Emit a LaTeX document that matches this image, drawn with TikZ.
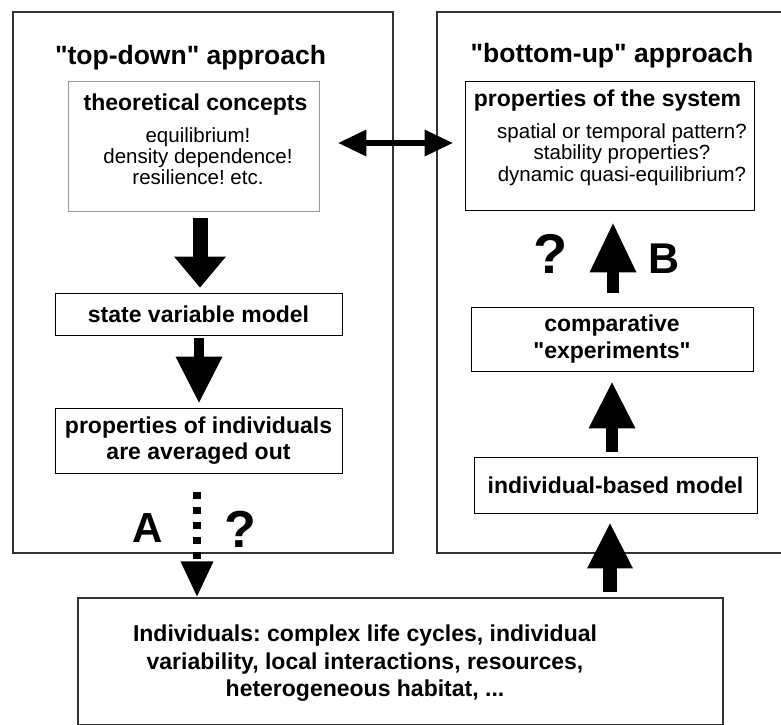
\documentclass[tikz,border=0pt]{standalone}
\usepackage{fontspec}
\setmainfont{Liberation Sans}[Ligatures=TeXOff]
\usetikzlibrary{arrows.meta,calc}
\frenchspacing
\begin{document}
\begin{tikzpicture}[x=1pt,y=-1pt,
  outerbox/.style={draw=black!80, line width=1.2pt, inner sep=0pt},
  innerbox/.style={draw=black, line width=0.9pt, inner sep=0pt, align=center,
    font=\fontsize{23}{26.5}\selectfont\bfseries},
  graybox/.style={draw=black!40, line width=0.9pt, inner sep=0pt},
  titletext/.style={inner sep=0pt, font=\fontsize{26.5}{30}\selectfont\bfseries},
  headtext/.style={inner sep=0pt, font=\fontsize{23}{26}\selectfont\bfseries},
  bodytext/.style={inner sep=0pt, align=center, font=\fontsize{20.5}{21}\selectfont},
  bigletter/.style={inner sep=0pt, font=\fontsize{#1}{#1}\selectfont\bfseries},
  fatarrow/.style n args={3}{line width=#1, -{Triangle[width=#2, length=#3, line width=0pt]}},
]
\useasboundingbox (0,0) rectangle (781,724);

% outer frames
\node[outerbox, minimum width=380pt, minimum height=541pt] (L) at (203,282.5) {};
\node[outerbox, minimum width=345pt, minimum height=541pt] (R) at (609.5,282.5) {};
\node[outerbox, minimum width=645pt, minimum height=127pt] (indiv) at (400.5,661.5) {};

% titles
\node[titletext, anchor=base] (tdtitle) at (190.5,64) {"top-down" approach};
\node[titletext, anchor=base] (butitle) at (612,62) {"bottom-up" approach};

% theoretical concepts
\node[graybox, minimum width=251pt, minimum height=130pt] (theo) at (193.5,146) {};
\node[headtext, anchor=base] (theohead) at (195.5,110) {theoretical concepts};
\node[bodytext, anchor=north] (theobody) at (198,127) {equilibrium!\\density dependence!\\resilience! etc.};

% properties of the system
\node[innerbox, minimum width=289pt, minimum height=129pt] (props) at (609.5,145.5) {};
\node[headtext, anchor=base] (propshead) at (607.5,106.7) {properties of the system};
\node[bodytext, anchor=north, font=\fontsize{20.5}{21.5}\selectfont] (propsbody) at (622,123) {spatial or temporal pattern?\\stability properties?\\dynamic quasi-equilibrium?};

% left chain
\node[innerbox, minimum width=287pt, minimum height=42pt] (svm) at (198.5,314) {state variable model};
\node[innerbox, minimum width=287pt, minimum height=65pt] (piao) at (198.5,440.5) {properties of individuals\\are averaged out};

% right chain
\node[innerbox, minimum width=282pt, minimum height=64pt] (comp) at (612,339) {comparative\\"experiments"};
\node[innerbox, minimum width=283pt, minimum height=56pt] (ibm) at (615.5,485) {individual-based model};

% bottom text
\node[inner sep=0pt, align=center, font=\fontsize{23}{27.5}\selectfont\bfseries] (indivtext) at (365,663.5)
  {Individuals: complex life cycles, individual\\variability, local interactions, resources,\\heterogeneous habitat, ...};

% letters
\node[bigletter=42, anchor=base] (A) at (147.5,542) {A};
\node[bigletter=52, anchor=base] (qA) at (240,547) {?};
\node[bigletter=56, anchor=base] (qB) at (551,273) {?};
\node[bigletter=43, anchor=base] (B) at (664.5,273) {B};

% left arrows
\draw[fatarrow={15pt}{52pt}{31pt}] ($(theo.south)+(6.5,7)$) -- ($(svm.north)+(1.5,-5)$);
\draw[fatarrow={10pt}{47pt}{46pt}] ($(svm.south)+(0.5,3)$) -- ($(piao.north)+(0.5,-5)$);
\draw[fatarrow={8pt}{33pt}{35pt}, dash pattern=on 7pt off 8pt] ($(piao.south)+(-1.5,19)$) -- ($(piao.south |- indiv.north)+(-1.5,-1)$);

% right arrows
\draw[fatarrow={14pt}{46pt}{45pt}] ($(ibm.south |- indiv.north)+(-5.5,-5)$) -- ($(ibm.south)+(-5.5,10)$);
\draw[fatarrow={12pt}{47pt}{46pt}] ($(ibm.north)+(-3.5,-5)$) -- ($(comp.south)+(0,11)$);
\draw[fatarrow={12pt}{47pt}{49pt}] ($(comp.north)+(1,-14)$) -- ($(props.south)+(3.5,13)$);

% double arrow
\draw[line width=6pt, {Triangle[width=27pt,length=28pt,line width=0pt]}-{Triangle[width=27pt,length=28pt,line width=0pt]}]
  ($(theo.east)+(19,-3)$) -- ($(props.west)+(-12,-2.5)$);
\end{tikzpicture}
\end{document}
